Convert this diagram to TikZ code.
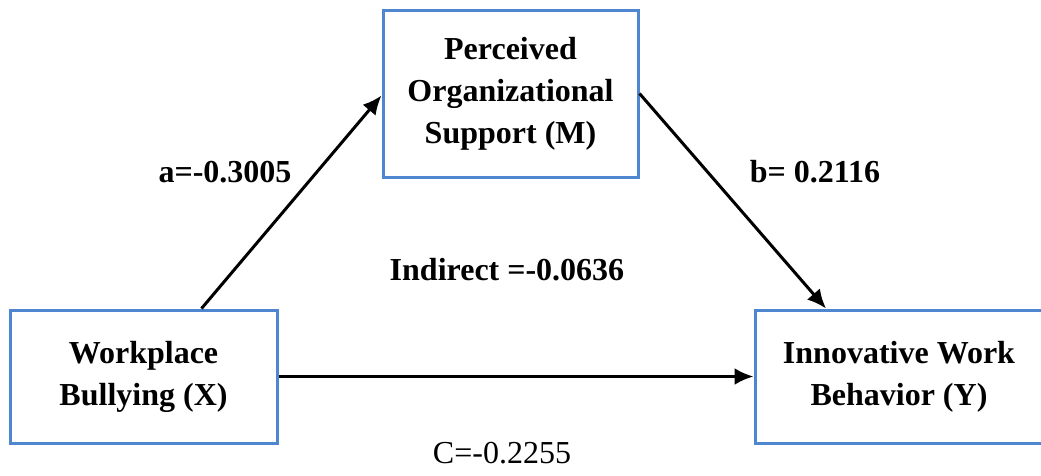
\documentclass[tikz,border=0pt]{standalone}
\usepackage{fontspec}
\setmainfont{Liberation Serif}
\usetikzlibrary{arrows.meta}
\definecolor{boxblue}{RGB}{78,134,208}
\tikzset{
  var/.style={draw=boxblue, line width=3pt, align=center, inner sep=0pt,
    font=\bfseries\fontsize{32}{42}\selectfont},
  coef/.style={font=\bfseries\fontsize{32}{40}\selectfont},
  path/.style={line width=3pt, ->},
}
\begin{document}
\begin{tikzpicture}[x=1pt, y=-1pt, >={Latex[length=19pt,width=17pt]}]
	\useasboundingbox (0,0) rectangle (1041,475);
	\node[var, minimum width=255pt, minimum height=167pt] (pos) at (510.5, 93.5) {Perceived\\Organizational\\Support (M)};
	\node[var, minimum width=267pt, minimum height=133pt] (wb) at (143.5, 376.5) {Workplace\\Bullying (X)};
	\node[var, minimum width=288pt, minimum height=133pt] (iwb) at (899, 376.5) {Innovative Work\\Behavior (Y)};
	\draw[path] ([xshift=58pt]wb.north) -- ([yshift=-2pt]pos.west);
	\draw[path] (pos.east) -- ([xshift=-73pt]iwb.north);
	\draw[path] (wb.east) -- (iwb.west);
	\node[coef] (a) at (225, 172) {a=-0.3005};
	\node[coef] (b) at (815, 172) {b= 0.2116};
	\node[coef] (ind) at (507, 270) {Indirect =-0.0636};
	\node[font=\fontsize{32}{40}\selectfont] (c) at (502, 453) {C=-0.2255};
\end{tikzpicture}
\end{document}
